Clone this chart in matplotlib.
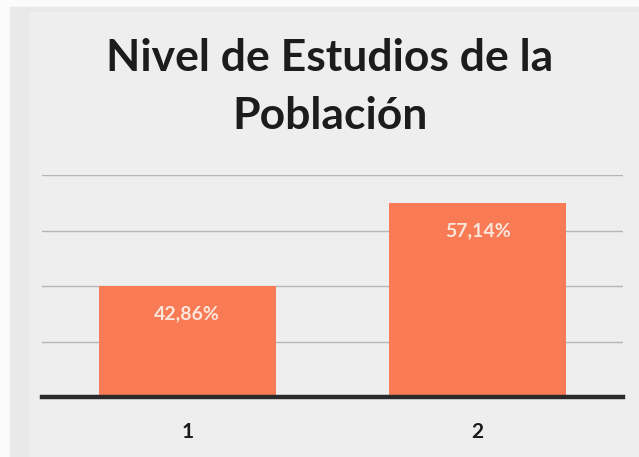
import matplotlib
matplotlib.use("Agg")
import matplotlib.pyplot as plt
from matplotlib.patches import Rectangle

# Data
categories = ["1", "2"]
values = [42.86, 57.14]
value_labels = ["42,86%", "57,14%"]
title_text = "Nivel de Estudios de la\nPoblación"

bar_color = "#F97B56"
W, H = 639, 457
fig = plt.figure(figsize=(W / 100, H / 100), dpi=100)
fig.patch.set_facecolor("#fbfbfb")
fig.patches.append(Rectangle((10 / W, 0), 1 - 10 / W, 1 - 7 / H,
                             transform=fig.transFigure, color="#e9e9e9", zorder=-10))
fig.patches.append(Rectangle((30 / W, 0), 1 - 30 / W, 1 - 12 / H,
                             transform=fig.transFigure, color="#eeeeee", zorder=-9))

ax = fig.add_axes([42 / W, 1 - 397 / H, (623 - 42) / W, (397 - 175) / H])
ax.set_facecolor("none")
ax.set_zorder(1)

x = [1, 2]
bars = ax.bar(x, values, width=0.61, color=bar_color, zorder=2)

# value axis starts above zero, with gridlines every 9.52 points
ymin, step = 23.8, 9.52
ax.set_ylim(ymin, ymin + 4 * step)
ax.set_xlim(0.5, 2.5)
ax.set_yticks([ymin + i * step for i in range(5)])
ax.yaxis.grid(True, color="#b5b5b5", linewidth=1.0, zorder=1)
ax.set_axisbelow(True)
ax.tick_params(axis="y", left=False, labelleft=False)
ax.set_xticks(x)
ax.set_xticklabels(categories, fontsize=15, fontweight="bold", color="#1a1a1a",
                   family="Lato")
ax.tick_params(axis="x", length=0, pad=18)
for s in ["top", "right", "left"]:
    ax.spines[s].set_visible(False)
ax.spines["bottom"].set_color("#2a2a2a")
ax.spines["bottom"].set_linewidth(3.2)
ax.spines["bottom"].set_zorder(3)

for b, v, lab in zip(bars, values, value_labels):
    ax.annotate(lab, (b.get_x() + b.get_width() / 2, v), xytext=(0, -20),
                textcoords="offset points", ha="center", va="center",
                fontsize=14, color="#fbe6dc", family="Lato", fontweight="bold")

fig.text(330 / W, 1 - 87 / H, title_text, ha="center", va="center",
         fontsize=32, fontweight="bold", family="Lato", color="#1c1c1c",
         linespacing=1.55)

fig.savefig("out.png", dpi=100, facecolor=fig.get_facecolor())
